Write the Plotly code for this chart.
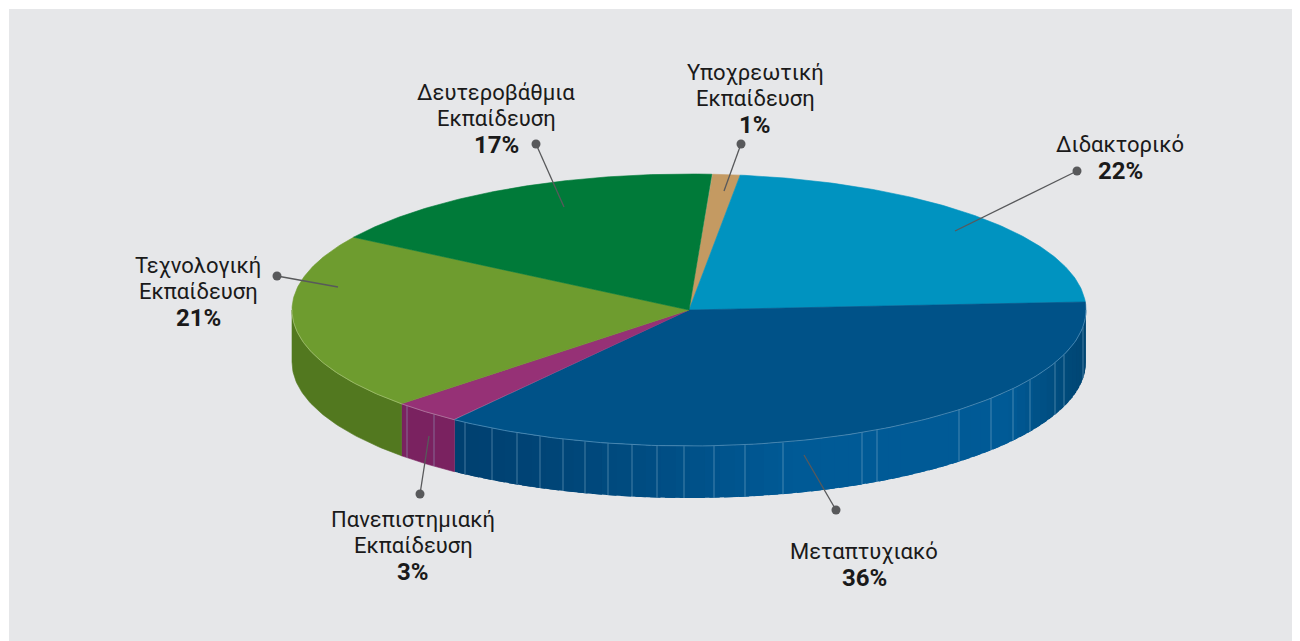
import numpy as np
import plotly.graph_objects as go

# clockwise from the top, starting at the small tan slice
CATEGORIES = ["Υποχρεωτική Εκπαίδευση", "Διδακτορικό", "Μεταπτυχιακό",
              "Πανεπιστημιακή Εκπαίδευση", "Τεχνολογική Εκπαίδευση", "Δευτεροβάθμια Εκπαίδευση"]
VALUES = [1.14, 22, 36, 2.83, 21.1, 16.93]  # slice sizes as drawn
PERCENT_LABELS = ["1%", "22%", "36%", "3%", "21%", "17%"]
TOP_COLORS = ["#c49a62", "#0093c0", "#005288", "#963176", "#6e9c2f", "#007a39"]
WALL_COLORS = ["#a5824f", "#00769c", "#005592", "#7a2260", "#52781f", "#00602c"]
RIM_COLORS = [None, None, "#5c97be", "#b58aa8", "#a9c47a", None]

LABEL_LINES = [["Υποχρεωτική", "Εκπαίδευση"], ["Διδακτορικό"], ["Μεταπτυχιακό"],
               ["Πανεπιστημιακή", "Εκπαίδευση"], ["Τεχνολογική", "Εκπαίδευση"], ["Δευτεροβάθμια", "Εκπαίδευση"]]
LABEL_X = [755, 1120, 864, 413, 198, 496]
LABEL_TOP_Y = [72, 144, 551, 519, 265, 92]
DOT_X = [741, 1077, 836, 420, 277, 536]
DOT_Y = [144, 171, 510, 494, 276, 144]
TIP_X = [724, 955, 804, 429, 338, 564]
TIP_Y = [191, 231, 455, 436, 287, 207]

SEAM_X = [407, 434, 465, 492, 517, 540, 563, 585, 608, 632, 657, 684, 714, 745, 783,
          862, 877, 959, 991, 1013, 1030, 1055, 1064, 1083]

# blue wall shading, left to right
BLUE_X = [455, 560, 680, 790, 1010, 1060, 1086]
BLUE_R = [0, 0, 0, 0, 0, 0, 0]
BLUE_G = [64, 70, 80, 90, 90, 76, 70]
BLUE_B = [112, 120, 135, 150, 150, 125, 115]

CX, CY, RX, RY, DEPTH = 689, 310, 397, 136, 52
START = 3.3


def rim(deg):
    t = np.radians(deg)
    return CX + RX * np.sin(t), CY - RY * np.cos(t)


def add_poly(fig, x, y, color, width=0.6):
    x, y = list(x) + [x[0]], list(y) + [y[0]]
    fig.add_trace(go.Scatter(x=x, y=y, mode="lines", fill="toself", fillcolor=color,
                             line=dict(color=color, width=width), hoverinfo="skip"))


edges = START + np.cumsum([0] + VALUES) * 3.6

fig = go.Figure()

# walls first, only the part facing the viewer
for i, c in enumerate(CATEGORIES):
    a0, a1 = max(edges[i], 90), min(edges[i + 1], 270)
    if a1 <= a0:
        continue
    if i == 2:
        # each band overlaps the one before it, no gaps
        steps = np.linspace(a0, a1, 60)
        for s0, s1 in zip(steps[:-1], steps[1:]):
            t = np.linspace(s0, min(s1 + 1.5, a1), 6)
            xa, ya = rim(t)
            xm = rim(np.array([(s0 + s1) / 2]))[0][0]
            col = "rgb(%d,%d,%d)" % (np.interp(xm, BLUE_X, BLUE_R), np.interp(xm, BLUE_X, BLUE_G),
                                     np.interp(xm, BLUE_X, BLUE_B))
            add_poly(fig, np.r_[xa, xa[::-1]], np.r_[ya, ya[::-1] + DEPTH], col, width=0)
    else:
        t = np.linspace(a0, a1, 60)
        xa, ya = rim(t)
        add_poly(fig, np.r_[xa, xa[::-1]], np.r_[ya, ya[::-1] + DEPTH], WALL_COLORS[i])

# seams on the wall
sx, sy = [], []
for x in SEAM_X:
    y = CY + RY * np.sqrt(1 - ((x - CX) / RX) ** 2)
    sx += [x, x, None]
    sy += [y, y + DEPTH, None]
fig.add_trace(go.Scatter(x=sx, y=sy, mode="lines", line=dict(color="rgba(150,190,215,0.45)", width=1),
                         hoverinfo="skip"))

# top face
for i, c in enumerate(CATEGORIES):
    t = np.linspace(edges[i], edges[i + 1], 120)
    xa, ya = rim(t)
    add_poly(fig, np.r_[CX, xa], np.r_[CY, ya], TOP_COLORS[i])

# light line along the front rim
for i, c in enumerate(CATEGORIES):
    if RIM_COLORS[i]:
        t = np.linspace(max(edges[i], 90), min(edges[i + 1], 270), 120)
        xa, ya = rim(t)
        fig.add_trace(go.Scatter(x=xa, y=ya, mode="lines", line=dict(color=RIM_COLORS[i], width=0.7),
                                 hoverinfo="skip"))

# leaders
for i, c in enumerate(CATEGORIES):
    fig.add_trace(go.Scatter(x=[DOT_X[i], TIP_X[i]], y=[DOT_Y[i], TIP_Y[i]], mode="lines",
                             line=dict(color="#58595b", width=1.3), hoverinfo="skip"))
fig.add_trace(go.Scatter(x=DOT_X, y=DOT_Y, mode="markers", marker=dict(color="#58595b", size=9),
                         hoverinfo="skip"))

# labels, one annotation per line so the leading stays at 26px
for i, c in enumerate(CATEGORIES):
    y = LABEL_TOP_Y[i]
    for line in LABEL_LINES[i]:
        fig.add_annotation(x=LABEL_X[i], y=y, text=line, showarrow=False, xanchor="center", yanchor="middle",
                           font=dict(size=22, color="#1a1a1a"))
        y += 26
    fig.add_annotation(x=LABEL_X[i], y=y + 1, text="<b>%s</b>" % PERCENT_LABELS[i], showarrow=False,
                       xanchor="center", yanchor="middle", font=dict(size=24, color="#1a1a1a"))

# the page keeps an 8px body margin, so the plot covers 8..1300 and 8..641
fig.update_layout(
    width=1292, height=633,
    margin=dict(l=0, r=0, t=0, b=0),
    paper_bgcolor="white",
    plot_bgcolor="white",
    showlegend=False,
    font=dict(family="Roboto"),
    xaxis=dict(range=[8, 1300], visible=False, fixedrange=True),
    yaxis=dict(range=[641, 8], visible=False, fixedrange=True),
    shapes=[dict(type="rect", x0=9, x1=1300, y0=9, y1=641, fillcolor="#e6e7e9", line_width=0, layer="below")],
)

fig.write_html("out.html", config=dict(displayModeBar=False))
